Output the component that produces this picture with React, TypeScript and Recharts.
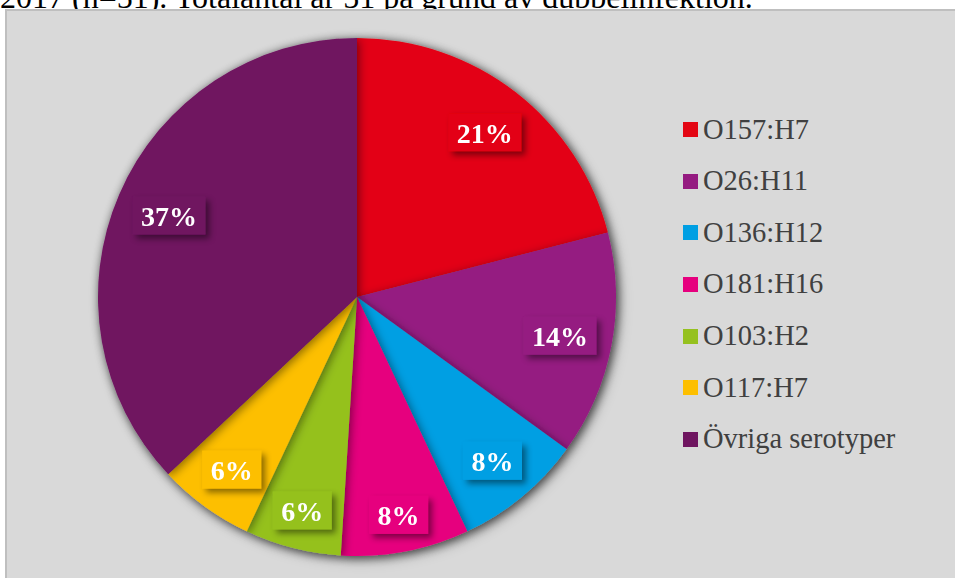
import React from 'react';
import { PieChart, Pie, Cell, Legend } from 'recharts';

const serotypes = ['O157:H7', 'O26:H11', 'O136:H12', 'O181:H16', 'O103:H2', 'O117:H7', 'Övriga serotyper'];
const shares = [21, 14, 8, 8, 6, 6, 37];
const colors = ['#E30613', '#951B81', '#009FE3', '#E6007E', '#95C11F', '#FDBF00', '#6F1560'];
const titleText = '2017 (n=51). Totalantal är 51 på grund av dubbelinfektion.';

const data = serotypes.map((name, i) => ({ name, value: shares[i] }));

const SERIF = 'Liberation Serif';
const LABEL_FONT = 28;
const RAD = Math.PI / 180;

const renderLabel = (props: any) => {
  const { cx, cy, midAngle, outerRadius, value, index } = props;
  const cos = Math.cos(-midAngle * RAD);
  const sin = Math.sin(-midAngle * RAD);
  const text = `${value}%`;
  const digits = String(value).length;
  const w = digits * 0.5 * LABEL_FONT + LABEL_FONT + 17;
  const h = 38;
  const ext = (w / 2) * Math.abs(cos) + (h / 2) * Math.abs(sin);
  const r = outerRadius - 13 - ext;
  const x = cx + r * cos;
  const y = cy + r * sin;
  return (
    <g>
      <rect x={x - w / 2} y={y - h / 2} width={w} height={h} fill={colors[index]} filter="url(#lblShadow)" />
      <text
        x={x}
        y={y + 1}
        fill="#ffffff"
        textAnchor="middle"
        dominantBaseline="central"
        fontFamily={SERIF}
        fontWeight="bold"
        fontSize={LABEL_FONT}
      >
        {text}
      </text>
    </g>
  );
};

const renderLegend = () => (
  <div style={{ fontFamily: SERIF, fontSize: 28.5, color: '#404040' }}>
    {serotypes.map((name, i) => (
      <div key={name} style={{ height: 51.67, display: 'flex', alignItems: 'center', whiteSpace: 'nowrap' }}>
        <span style={{ display: 'inline-block', width: 15, height: 15, background: colors[i], marginRight: 5 }} />
        <span>{name}</span>
      </div>
    ))}
  </div>
);

export default function App() {
  return (
    <div style={{ position: 'absolute', left: 0, top: 0, width: 955, height: 578, overflow: 'hidden', background: '#ffffff' }}>
      <style>{`.main-pie { filter: url(#pieShadow); }`}</style>
      <svg width={0} height={0} style={{ position: 'absolute' }}>
        <defs>
          <filter id="lblShadow" x="-30%" y="-30%" width="160%" height="180%">
            <feDropShadow dx={4} dy={4} stdDeviation={3} floodColor="#000" floodOpacity={0.45} />
          </filter>
          <filter id="pieShadow" x="-10%" y="-10%" width="120%" height="120%">
            <feDropShadow dx={2} dy={2} stdDeviation={5} floodColor="#000" floodOpacity={0.45} />
          </filter>
        </defs>
      </svg>
      <svg width={955} height={20} style={{ position: 'absolute', left: 0, top: 0 }}>
        <text x={0} y={8} fontFamily={SERIF} fontSize={32} fill="#000">
          {titleText}
        </text>
      </svg>
      <div
        style={{
          position: 'absolute',
          left: 5,
          top: 9,
          width: 960,
          height: 580,
          background: '#D9D9D9',
          borderLeft: '2px solid #BFBFBF',
          borderTop: '2px solid #BFBFBF',
          boxSizing: 'border-box',
        }}
      />
      <div style={{ position: 'absolute', left: 0, top: 0 }}>
        <PieChart width={955} height={578} margin={{ top: 0, right: 0, bottom: 0, left: 0 }}>
          <Pie
            className="main-pie"
            data={data}
            dataKey="value"
            nameKey="name"
            cx={357}
            cy={297}
            outerRadius={259}
            startAngle={90}
            endAngle={-270}
            stroke="none"
            label={renderLabel}
            labelLine={false}
            isAnimationActive={false}
          >
            {data.map((d, i) => (
              <Cell key={d.name} fill={colors[i]} />
            ))}
          </Pie>
          <Legend
            content={renderLegend}
            wrapperStyle={{ position: 'absolute', left: 683, top: 103.7, width: 260 }}
          />
        </PieChart>
      </div>
    </div>
  );
}
